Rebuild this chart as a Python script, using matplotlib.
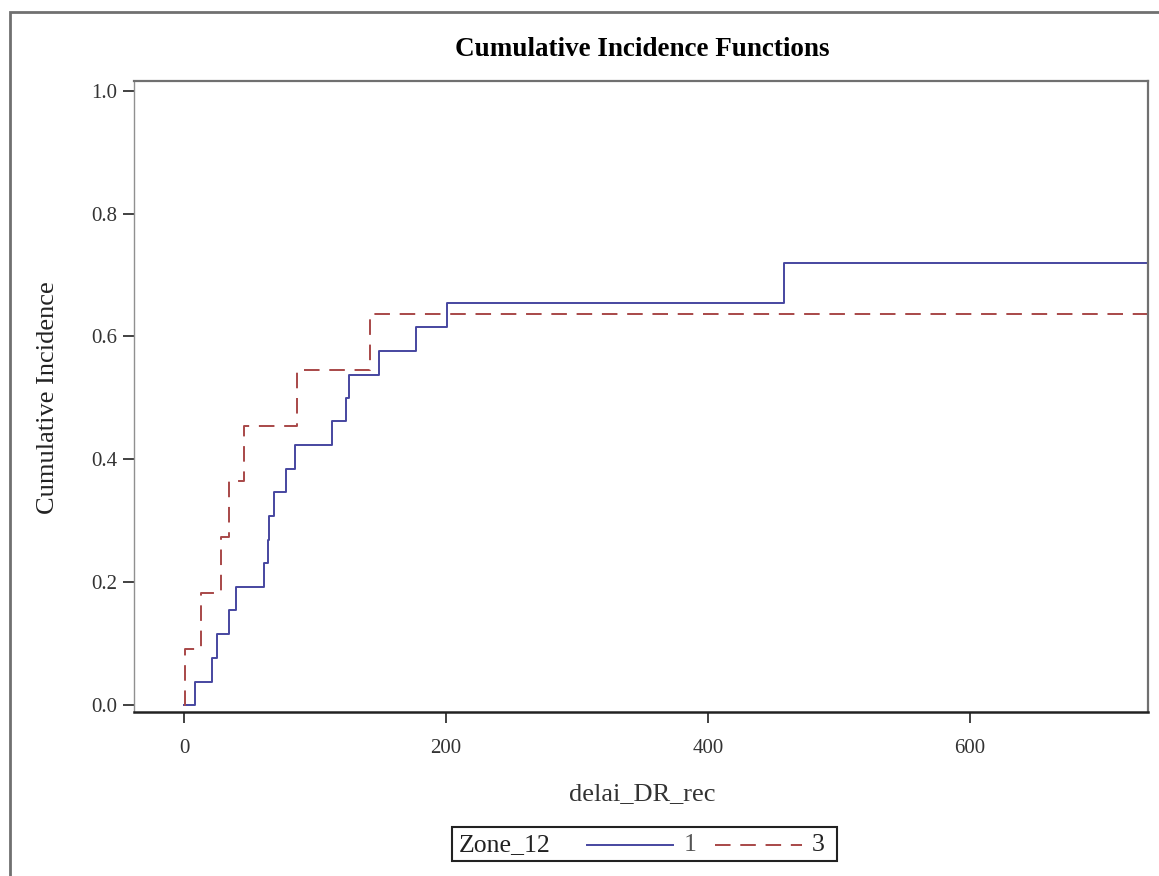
import matplotlib.pyplot as plt
from matplotlib.patches import Rectangle
from matplotlib.lines import Line2D

# Zone_12 = 1
blue_t = [0, 8, 21, 25, 34, 40, 61, 64, 65, 69, 78, 85, 113, 124, 126, 149, 177, 201, 458, 736]
blue_y = [0, 0.038, 0.077, 0.115, 0.154, 0.192, 0.231, 0.269, 0.308, 0.346, 0.385, 0.423,
          0.462, 0.5, 0.538, 0.577, 0.615, 0.654, 0.72, 0.72]

# Zone_12 = 3
red_t = [0, 1, 13, 28, 34, 46, 86, 142, 736]
red_y = [0, 0.091, 0.182, 0.273, 0.364, 0.455, 0.545, 0.636, 0.636]

x_ticks = [0, 200, 400, 600]
y_ticks = [0.0, 0.2, 0.4, 0.6, 0.8, 1.0]

W, H = 1159, 876
BLUE = "#4646a0"
RED = "#a84848"
FONT = "Liberation Serif"


def px(x, y):
    # pixel position -> figure fraction
    return x / W, 1 - y / H


plt.rcParams["font.family"] = FONT

fig = plt.figure(figsize=(W / 100, H / 100), dpi=100)
ax = fig.add_axes([134 / W, 1 - 711.7 / H, (1148 - 134) / W, (711.7 - 81) / H])

ax.step(blue_t, blue_y, where="post", color=BLUE, lw=1.4)
ax.step(red_t, red_y, where="post", color=RED, lw=1.4, ls=(0, (8, 5)))

ax.set_xlim(-38.2, 736)
ax.set_ylim(-0.011, 1.016)
ax.set_xticks(x_ticks, [str(v) for v in x_ticks])
ax.set_yticks(y_ticks, [f"{v:.1f}" for v in y_ticks])
ax.tick_params(length=8, width=1.3, color="#333333", labelsize=15, labelcolor="#333333", pad=4)
ax.tick_params(axis="x", pad=12)

for side in ["top", "right"]:
    ax.spines[side].set_color("#707070")
    ax.spines[side].set_linewidth(1.6)
ax.spines["left"].set_color("#909090")
ax.spines["left"].set_linewidth(1.0)
ax.spines["bottom"].set_color("#222222")
ax.spines["bottom"].set_linewidth(1.8)

# title and axis labels
fig.text(*px(642, 50), "Cumulative Incidence Functions", ha="center", va="center",
         fontsize=19.5, fontweight="bold")
fig.text(*px(642, 794), "delai_DR_rec", ha="center", va="center", fontsize=19, color="#333333")
fig.text(*px(48, 398), "Cumulative Incidence", ha="center", va="center", rotation=90,
         fontsize=19, color="#222222")

# legend box
x0, y0 = px(452, 861)
x1, y1 = px(837, 827)
fig.patches.append(Rectangle((x0, y0), x1 - x0, y1 - y0, transform=fig.transFigure,
                             fill=False, ec="#222222", lw=1.5))
fig.text(*px(459, 845), "Zone_12", ha="left", va="center", fontsize=18.5, color="#222222")
fig.lines.append(Line2D([587 / W, 673 / W], [1 - 845 / H] * 2, transform=fig.transFigure,
                        color=BLUE, lw=1.4))
fig.text(*px(690, 845), "1", ha="center", va="center", fontsize=18.5, color="#555555")
fig.lines.append(Line2D([715 / W, 802 / W], [1 - 845 / H] * 2, transform=fig.transFigure,
                        color=RED, lw=1.4, ls=(0, (8, 5))))
fig.text(*px(818, 845), "3", ha="center", va="center", fontsize=18.5, color="#222222")

# outer frame
fx0, fy0 = px(10, 890)
fx1, fy1 = px(1170, 12)
fig.patches.append(Rectangle((fx0, fy0), fx1 - fx0, fy1 - fy0, transform=fig.transFigure,
                             fill=False, ec="#707070", lw=2, clip_on=False))

fig.savefig("out.png", dpi=100)
